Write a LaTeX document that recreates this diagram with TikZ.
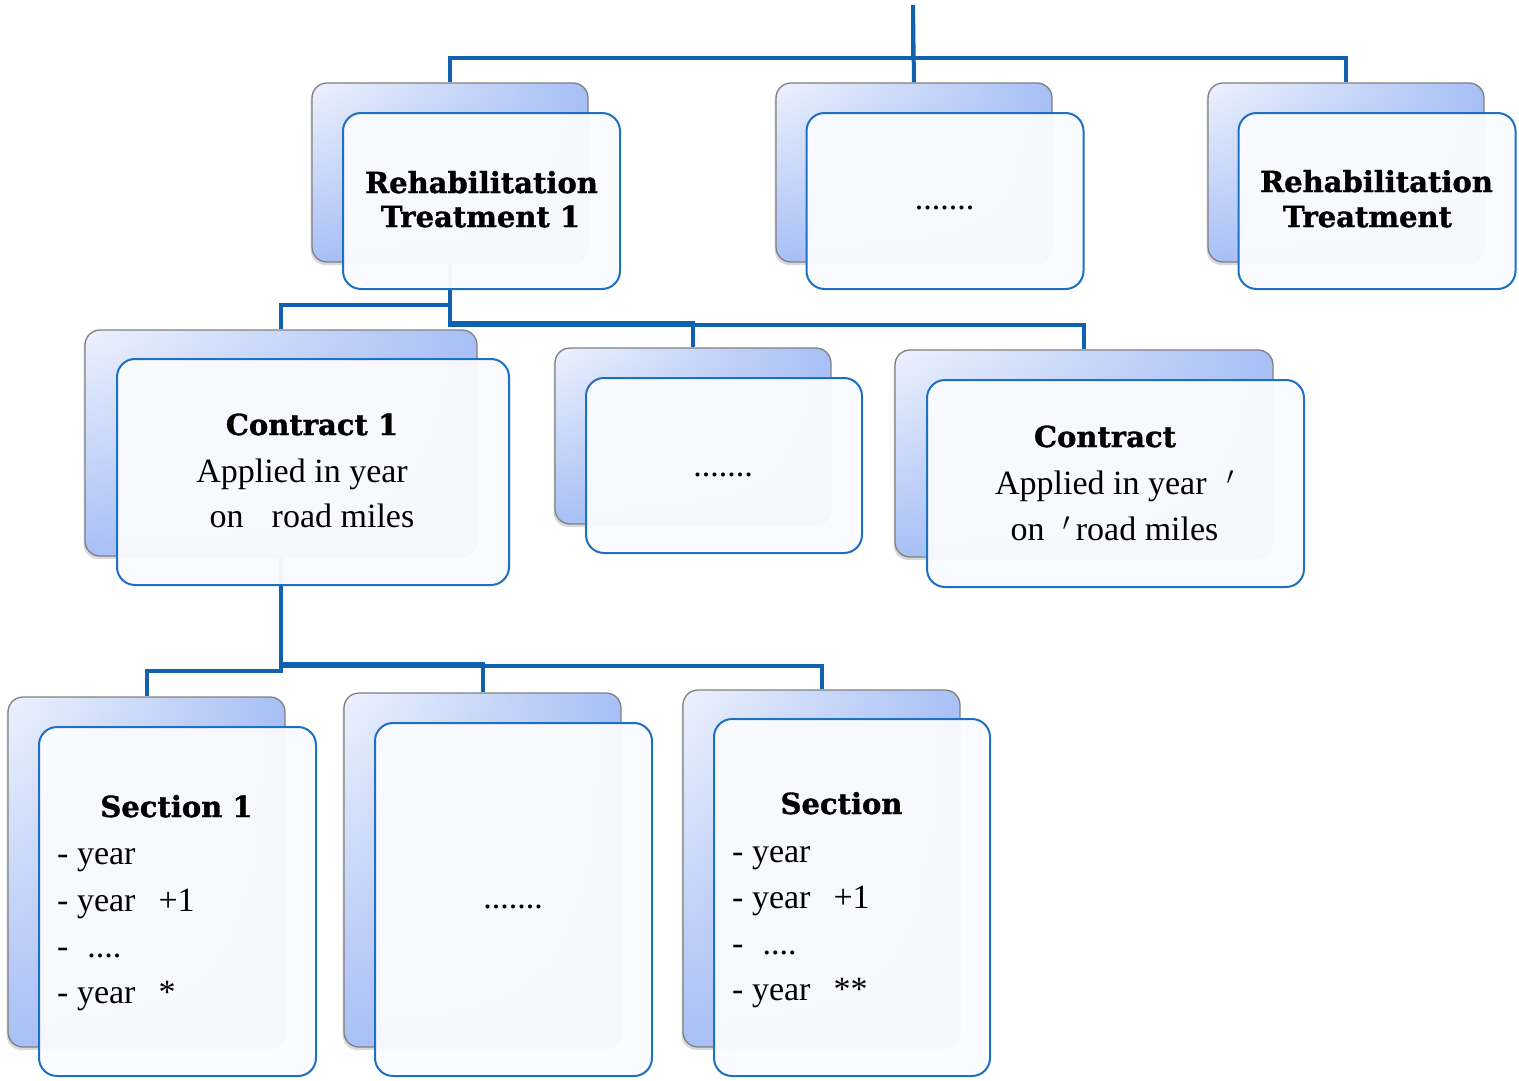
\documentclass[tikz,border=0pt]{standalone}
\usepackage{fontspec}
\setmainfont{Liberation Serif}
\newfontfamily\titlefont{DejaVu Serif}[BoldFeatures={FakeBold=1.2}]
\usetikzlibrary{shadows,fadings,backgrounds}
\definecolor{connblue}{RGB}{16,98,176}
\definecolor{frontblue}{RGB}{30,112,196}
\definecolor{backgray}{RGB}{128,128,128}
\definecolor{bglight}{RGB}{238,242,253}
\definecolor{bgblue}{RGB}{168,192,246}
\definecolor{frontfill}{RGB}{250,251,255}
\begin{document}
\begin{tikzpicture}[x=1pt,y=-1pt,
 conn/.style={draw=connblue, line width=4pt},
 backbox/.style={rectangle, rounded corners=15pt, draw=backgray, line width=1.3pt, inner sep=0pt,
   left color=bglight, right color=bgblue,
   drop shadow={shadow xshift=-1.5pt, shadow yshift=-3pt, opacity=0.3},
   path picture={\fill[bgblue, path fading=north] (path picture bounding box.south west) rectangle (path picture bounding box.north east);}},
 frontbox/.style={rectangle, rounded corners=18pt, draw=frontblue, line width=2pt, inner sep=0pt, fill=frontfill, fill opacity=0.965},
 rtxt/.style={font=\fontsize{34}{40}\selectfont, inner sep=0pt},
 btxt/.style={font=\titlefont\bfseries\fontsize{29}{33}\selectfont, inner sep=0pt},
]
\useasboundingbox (0,0) rectangle (1519,1081);
\coordinate (root) at (913,5);
% top row
\node[backbox, minimum width=276pt, minimum height=179pt] (rtAb) at (450,172.5) {};
\node[frontbox, minimum width=277pt, minimum height=176pt] (rtAf) at (481.5,201) {};
\node[backbox, minimum width=276pt, minimum height=179pt] (rtBb) at (914,172.5) {};
\node[frontbox, minimum width=277pt, minimum height=176pt] (rtBf) at (945,201) {};
\node[backbox, minimum width=276pt, minimum height=179pt] (rtCb) at (1346,172.5) {};
\node[frontbox, minimum width=277pt, minimum height=176pt] (rtCf) at (1377,201) {};
% middle row
\node[backbox, minimum width=392pt, minimum height=226pt] (c1b) at (281,443) {};
\node[frontbox, minimum width=392pt, minimum height=226pt] (c1f) at (313,472) {};
\node[backbox, minimum width=276pt, minimum height=176pt] (cmb) at (693,436) {};
\node[frontbox, minimum width=276pt, minimum height=175pt] (cmf) at (724,465.5) {};
\node[backbox, minimum width=378pt, minimum height=207pt] (cRb) at (1084,453.5) {};
\node[frontbox, minimum width=377pt, minimum height=207pt] (cRf) at (1115.5,483.5) {};
% bottom row
\node[backbox, minimum width=277pt, minimum height=350pt] (s1b) at (146.5,872) {};
\node[frontbox, minimum width=277pt, minimum height=349pt] (s1f) at (177.5,901.5) {};
\node[backbox, minimum width=277pt, minimum height=354pt] (smb) at (482.5,870) {};
\node[frontbox, minimum width=277pt, minimum height=353pt] (smf) at (513.5,899.5) {};
\node[backbox, minimum width=277pt, minimum height=357pt] (sRb) at (821.5,868.5) {};
\node[frontbox, minimum width=276pt, minimum height=357pt] (sRf) at (852,897.5) {};
% texts top
\node[btxt, anchor=base] (rtAt1) at (481.5,193) {Rehabilitation};
\node[btxt, anchor=base] (rtAt2) at (480.5,227) {Treatment 1};
\node[rtxt, anchor=base] (rtBt) at (944.5,209) {.......};
\node[btxt, anchor=base] (rtCt1) at (1376.5,192) {Rehabilitation};
\node[btxt, anchor=base] (rtCt2) at (1367.5,227) {Treatment};
% texts middle
\node[btxt, anchor=base] (c1t1) at (312,435) {Contract 1};
\node[rtxt, anchor=base] (c1t2) at (302,482) {Applied in year};
\node[rtxt, anchor=base] (c1t3) at (312,527) {on\hspace{28pt}road miles};
\node[rtxt, anchor=base] (cmt) at (723,476) {.......};
\node[btxt, anchor=base] (cRt1) at (1105,447) {Contract};
\node[rtxt, anchor=base] (cRt2) at (1114.5,494) {Applied in year\hspace{20pt}$^{\prime}$};
\node[rtxt, anchor=base] (cRt3) at (1114.5,540) {on\hspace{18pt}$^{\prime}$\hspace{6pt}road miles};
% texts bottom
\node[btxt, anchor=base] (s1t) at (176.5,817) {Section 1};
\node[rtxt, anchor=base west] (s1l1) at (57,864) {- year};
\node[rtxt, anchor=base west] (s1l2) at (57,911) {- year\hspace{23pt}+1};
\node[rtxt, anchor=base west] (s1l3) at (57,957) {-\hspace{19pt}....};
\node[rtxt, anchor=base west] (s1l4) at (57,1003) {- year\hspace{23pt}*};
\node[rtxt, anchor=base] (smt) at (513,908) {.......};
\node[btxt, anchor=base] (sRt) at (841.5,814) {Section};
\node[rtxt, anchor=base west] (sRl1) at (732,862) {- year};
\node[rtxt, anchor=base west] (sRl2) at (732,908) {- year\hspace{23pt}+1};
\node[rtxt, anchor=base west] (sRl3) at (732,954) {-\hspace{19pt}....};
\node[rtxt, anchor=base west] (sRl4) at (732,1000) {- year\hspace{23pt}**};
% connectors
\begin{scope}[on background layer]
\draw[conn] (root) -- (rtBb.north);
\draw[conn] (root) -- ++(0,53) -| (rtAb.north);
\draw[conn] (root) -- ++(0,53) -| (rtCb.north);
\draw[conn] (rtAb.south) -- ++(0,42) -| (c1b.north);
\draw[conn] (rtAb.south) -- ++(0,60) -| (cmb.north);
\draw[conn] (rtAb.south) -- ++(0,62) -| (cRb.north);
\draw[conn] (c1b.south) -- ++(0,114) -| (s1b.north);
\draw[conn] (c1b.south) -- ++(0,107) -| (smb.north);
\draw[conn] (c1b.south) -- ++(0,109) -| (sRb.north);
\end{scope}
\end{tikzpicture}
\end{document}
